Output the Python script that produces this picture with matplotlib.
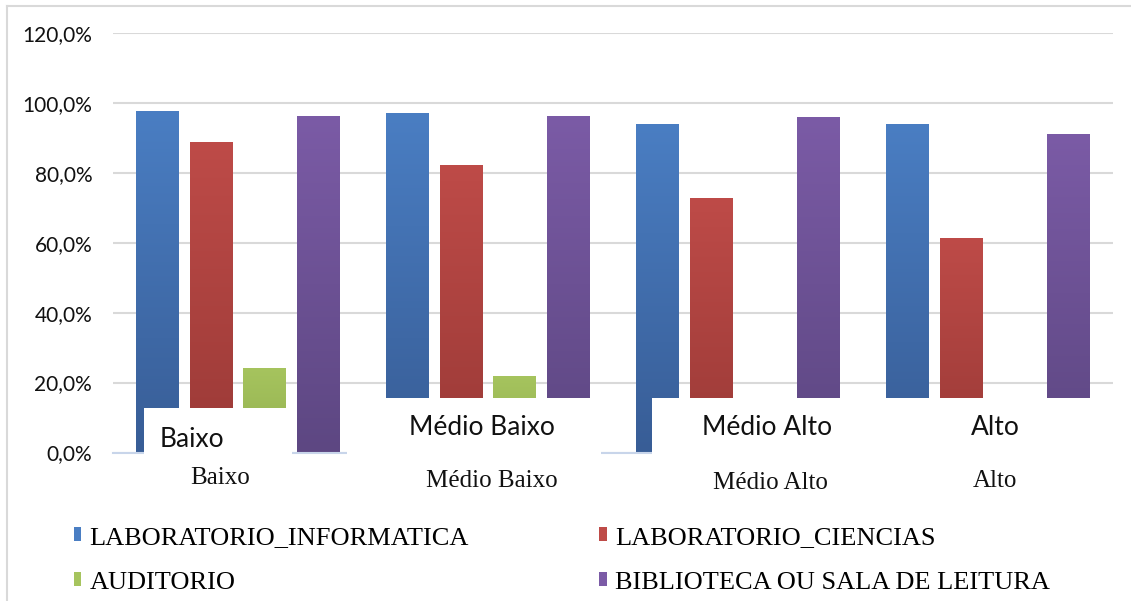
import numpy as np
import matplotlib
matplotlib.use('Agg')
import matplotlib.pyplot as plt
from matplotlib.colors import LinearSegmentedColormap
from matplotlib.patches import Rectangle
from matplotlib.lines import Line2D
from matplotlib.transforms import blended_transform_factory

categorias = ['Baixo', 'Médio Baixo', 'Médio Alto', 'Alto']
series = ['LABORATORIO_INFORMATICA', 'LABORATORIO_CIENCIAS',
          'AUDITORIO', 'BIBLIOTECA OU SALA DE LEITURA']

lab_informatica = [0.976, 0.970, 0.941, 0.941]
lab_ciencias = [0.888, 0.823, 0.729, 0.613]
auditorio = [0.242, 0.219, 0.0, 0.0]
biblioteca = [0.964, 0.964, 0.959, 0.912]

# (top, bottom) of each bar gradient
cores = [('#4a7ec3', '#385d96'),
         ('#be4b48', '#9b3a37'),
         ('#a6c45e', '#93b050'),
         ('#7b5ba6', '#5d4782')]

W, H = 1131, 601

def fx(x):
  return x / W

def fy(y):
  return 1 - y / H

fig = plt.figure(figsize=(W / 100, H / 100), dpi=100)
ax = fig.add_axes([fx(113), fy(452.5), 1000 / W, (452.5 - 33) / H])

passo = 0.215
largura = 0.172
x = np.arange(len(categorias))
valores = [lab_informatica, lab_ciencias, auditorio, biblioteca]

for i, (vals, (topo, base)) in enumerate(zip(valores, cores)):
  pos = x + (i - 1.5) * passo
  barras = ax.bar(pos, vals, width=largura, color=topo, zorder=2, linewidth=0)
  cmap = LinearSegmentedColormap.from_list('g%d' % i, [base, topo])
  grad = np.linspace(0, 1, 256).reshape(-1, 1)
  for b in barras:
    h = b.get_height()
    if h <= 0:
      continue
    im = ax.imshow(grad, extent=[b.get_x(), b.get_x() + b.get_width(), 0, h],
                   origin='lower', cmap=cmap, aspect='auto', zorder=2.1)
    im.set_clip_path(b)

ax.set_xlim(-0.5, 3.5)
ax.set_ylim(0, 1.2)
ax.set_yticks(np.arange(0, 1.21, 0.2))
ax.set_yticklabels([('%.1f%%' % (v * 100)).replace('.', ',') for v in np.arange(0, 1.21, 0.2)],
                   fontsize=15, family='Lato', color='#111111')
ax.set_xticks([])
ax.tick_params(axis='y', length=0, pad=15)
ax.yaxis.grid(True, color='#d9d9d9', lw=1.5)
ax.set_axisbelow(True)
for s in ['top', 'right', 'left']:
  ax.spines[s].set_visible(False)
ax.spines['bottom'].set_color('#c8d5ea')
ax.spines['bottom'].set_linewidth(1.5)

# serif category names under the plot
trans = blended_transform_factory(ax.transData, ax.transAxes)
desloc_serif = [-0.072, 0.016, 0.128, 0.028]
y_serif = [-0.061, -0.068, -0.073, -0.068]
for k, nome in enumerate(categorias):
  ax.text(k + desloc_serif[k], y_serif[k], nome, transform=trans, ha='center', va='center',
          fontsize=18, family='Liberation Serif', color='#111111')

# white label boxes laid over the bottom of the bars
caixas = [(144, 408, 292, 456), (347, 398, 601, 456), (652, 398, 1131, 456)]
for x0, y0, x1, y1 in caixas:
  fig.add_artist(Rectangle((fx(x0), fy(y1)), (x1 - x0) / W, (y1 - y0) / H,
                           transform=fig.transFigure, facecolor='white',
                           edgecolor='none', zorder=5))

desloc_caixa = [-0.184, -0.024, 0.116, 0.028]
y_caixa = [0.031, 0.060, 0.060, 0.060]
for k, nome in enumerate(categorias):
  fig.text(k + desloc_caixa[k], y_caixa[k], nome, transform=trans, ha='center', va='center',
           fontsize=19, family='Lato', color='#111111', zorder=6)

# chart area border (left and top only)
fig.add_artist(Line2D([fx(7), fx(7)], [fy(6), 0], transform=fig.transFigure,
                      color='#d9d9d9', lw=1.5, zorder=1))
fig.add_artist(Line2D([fx(7), 1], [fy(6), fy(6)], transform=fig.transFigure,
                      color='#d9d9d9', lw=1.5, zorder=1))

ordem = [0, 2, 1, 3]
handles = [Rectangle((0, 0), 1, 1, facecolor=cores[i][0]) for i in ordem]
fig.legend(handles, [series[i] for i in ordem], ncol=2, loc='upper left',
           bbox_to_anchor=(fx(63), fy(516)), frameon=False,
           prop={'family': 'Liberation Serif', 'size': 19},
           handlelength=0.3, handleheight=0.45, handletextpad=0.3,
           columnspacing=4.95, labelspacing=0.88, borderaxespad=0)

fig.savefig('out.png', dpi=100, facecolor='white')
